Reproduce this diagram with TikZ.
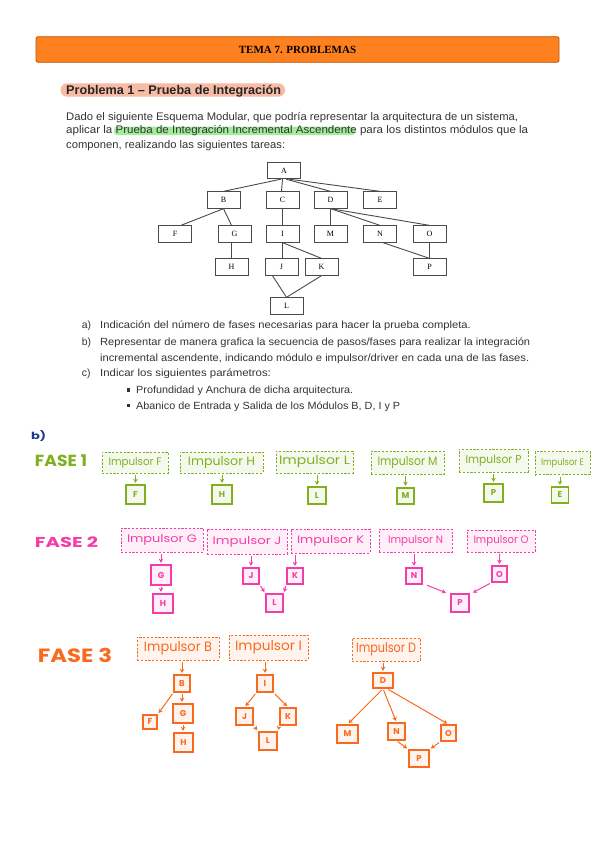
\documentclass[tikz,border=0pt]{standalone}
\usepackage{fontspec}
\usepackage{graphicx}
\setmainfont{Liberation Sans}
\newfontfamily\serifA{Liberation Serif}
\newfontfamily\hwfont{Poppins}
\usetikzlibrary{arrows.meta}
\definecolor{hdrfill}{HTML}{FF801F}
\definecolor{hdrdraw}{HTML}{B8560E}
\definecolor{salmon}{HTML}{F8BBA6}
\definecolor{hlgreen}{HTML}{A3EC9C}
\definecolor{bodytxt}{HTML}{333333}
\definecolor{treeline}{HTML}{4A4A4A}
\definecolor{gcol}{HTML}{80B020}
\definecolor{pcol}{HTML}{F53DAA}
\definecolor{ocol}{HTML}{F96A1E}
\definecolor{bcol}{HTML}{1E3C8C}
\newcommand\hwt[3]{\resizebox{#1pt}{#2pt}{\hwfont #3}}
\newcommand\hwb[3]{\resizebox{#1pt}{#2pt}{\hwfont\bfseries #3}}
\newcommand\fitw[2]{\resizebox{#1pt}{\height}{#2}}
\begin{document}
\begin{tikzpicture}[x=1pt,y=-1pt,
  bodyline/.style={anchor=base west,inner sep=0,text=bodytxt,font=\fontsize{11}{13}\selectfont},
  listline/.style={anchor=base west,inner sep=0,text=bodytxt,font=\fontsize{10.4}{13}\selectfont},
  tbox/.style={draw=treeline,line width=0.8pt,minimum width=33pt,minimum height=16.5pt,inner sep=0,font=\serifA\fontsize{8}{8}\selectfont},
  tedge/.style={draw=treeline,line width=0.9pt},
  imp/.style={draw=#1,fill=#1!8,dash pattern=on 2.2pt off 1.6pt,line width=0.9pt,inner sep=0,text=#1},
  mbox/.style={draw=#1,fill=#1!8,line width=1.4pt,inner sep=0,text=#1,font=\hwfont\bfseries\fontsize{8.5}{8.5}\selectfont},
  arr/.style={draw=#1,line width=1pt,-{Stealth[length=4pt,width=4.6pt]},shorten <=1.5pt,shorten >=1.5pt},
  sq/.style={fill=bodytxt,minimum size=3.2pt,inner sep=0}
]
\useasboundingbox (0,0) rectangle (599,848);
\fill[white] (0,0) rectangle (599,848);

% header
\node[draw=hdrdraw,fill=hdrfill,line width=0.8pt,rounded corners=2pt,minimum width=523pt,minimum height=25.6pt,inner sep=0,font=\serifA\bfseries\fontsize{11}{11}\selectfont] (hdr) at (297.5,49.5) {TEMA 7. PROBLEMAS};

% title
\node[fill=salmon,rounded corners=6.5pt,minimum width=224.5pt,minimum height=13.4pt,inner sep=0] (titbg) at (172.8,90) {};
\node[anchor=base west,inner sep=0,font=\bfseries\fontsize{12.6}{14}\selectfont,text=black!85] (tit) at (66,94.3) {\fitw{215}{Problema 1 – Prueba de Integración}};

% paragraph
\fill[hlgreen,rounded corners=3pt] (114,126.7) rectangle (355,135);
\node[bodyline] (p1) at (66,120.7) {\fitw{452}{Dado el siguiente Esquema Modular, que podría representar la arquitectura de un sistema,}};
\node[bodyline] (p2) at (66,133.3) {\fitw{462}{aplicar la Prueba de Integración Incremental Ascendente para los distintos módulos que la}};
\node[bodyline] (p3) at (66,148.3) {\fitw{219}{componen, realizando las siguientes tareas:}};

% tree
\node[tbox] (A) at (284,170.5) {A};
\node[tbox] (B) at (223.5,200) {B};
\node[tbox] (C) at (282.5,200) {C};
\node[tbox] (D) at (330.5,200) {D};
\node[tbox] (E) at (380,200) {E};
\node[tbox] (F) at (175,234) {F};
\node[tbox] (G) at (234.5,234) {G};
\node[tbox] (I) at (282.5,234) {I};
\node[tbox] (M) at (330.5,234) {M};
\node[tbox] (N) at (380,234) {N};
\node[tbox] (O) at (429.5,234) {O};
\node[tbox] (H) at (231.5,267) {H};
\node[tbox] (J) at (281.5,267) {J};
\node[tbox] (K) at (321.5,267) {K};
\node[tbox] (P) at (429.5,267) {P};
\node[tbox] (L) at (286.5,306) {L};
\draw[tedge] ([xshift=-3pt]A.south) -- (B.north);
\draw[tedge] ([xshift=-1.5pt]A.south) -- ([xshift=-1pt]C.north);
\draw[tedge] ([xshift=2pt]A.south) -- (D.north);
\draw[tedge] ([xshift=5pt]A.south) -- (E.north);
\draw[tedge] (B.south) -- ([xshift=6pt]F.north);
\draw[tedge] (B.south) -- ([xshift=-3pt]G.north);
\draw[tedge] (G.south -| H.north) -- (H.north);
\draw[tedge] (C.south) -- (I.north);
\draw[tedge] (I.south) -- (I.south |- J.north);
\draw[tedge] (I.south) -- (K.north);
\draw[tedge] ([xshift=-9pt]J.south) -- (L.north);
\draw[tedge] (K.south) -- (L.north);
\draw[tedge] (D.south) -- (M.north);
\draw[tedge] (D.south) -- (N.north);
\draw[tedge] (D.south) -- (O.north);
\draw[tedge] ([xshift=3pt]N.south) -- (P.north);
\draw[tedge] (O.south) -- (P.north);

% list
\node[listline] (la) at (81.7,328.5) {a)};
\node[listline] (lat) at (100,328.5) {\fitw{370.7}{Indicación del número de fases necesarias para hacer la prueba completa.}};
\node[listline] (lb) at (81.7,345) {b)};
\node[listline] (lbt) at (100,345) {\fitw{430}{Representar de manera grafica la secuencia de pasos/fases para realizar la integración}};
\node[listline] (lbt2) at (100,361) {\fitw{429}{incremental ascendente, indicando módulo e impulsor/driver en cada una de las fases.}};
\node[listline] (lc) at (81.7,376.8) {c)};
\node[listline] (lct) at (100,376.8) {\fitw{170.7}{Indicar los siguientes parámetros:}};
\node[sq] (s1) at (128.5,390) {};
\node[listline] (l1) at (136,393.5) {\fitw{217}{Profundidad y Anchura de dicha arquitectura.}};
\node[sq] (s2) at (128.5,405.7) {};
\node[listline] (l2) at (136,409.2) {\fitw{264}{Abanico de Entrada y Salida de los Módulos B, D, I y P}};

% b)
\node[inner sep=0,text=bcol] (bl) at (38.5,436) {\hwb{15}{9}{b)}};

% FASE 1
\node[inner sep=0,text=gcol] (f1) at (61,461) {\hwb{52}{11.7}{FASE 1}};
\node[imp=gcol,minimum width=66pt,minimum height=21pt] (iF) at (135,462.5) {\hwt{53}{8}{Impulsor F}};
\node[mbox=gcol,minimum width=19pt,minimum height=19pt] (bF) at (135.5,494.5) {F};
\node[imp=gcol,minimum width=83pt,minimum height=21pt] (iH) at (221.5,462.5) {\hwt{67}{9}{Impulsor H}};
\node[mbox=gcol,minimum width=20pt,minimum height=19pt] (bH) at (222,494.5) {H};
\node[imp=gcol,minimum width=77pt,minimum height=22pt] (iL) at (314.5,462) {\hwt{71}{9}{Impulsor L}};
\node[mbox=gcol,minimum width=18pt,minimum height=17pt] (bL) at (317,495.5) {L};
\node[imp=gcol,minimum width=73pt,minimum height=23pt] (iM) at (407.5,462.5) {\hwt{60}{9}{Impulsor M}};
\node[mbox=gcol,minimum width=17pt,minimum height=16pt] (bM) at (405.5,496) {M};
\node[imp=gcol,minimum width=69pt,minimum height=23pt] (iP) at (493.5,460.5) {\hwt{56}{8.5}{Impulsor P}};
\node[mbox=gcol,minimum width=19pt,minimum height=18pt] (bP) at (493.5,493) {P};
\node[imp=gcol,minimum width=55pt,minimum height=23pt] (iE) at (562.5,463.3) {\hwt{43}{7}{Impulsor E}};
\node[mbox=gcol,minimum width=17pt,minimum height=16pt] (bE) at (560,495) {E};
\draw[arr=gcol] (iF.south -| bF.north) -- (bF.north);
\draw[arr=gcol] (iH.south -| bH.north) -- (bH.north);
\draw[arr=gcol] (iL.south -| bL.north) -- (bL.north);
\draw[arr=gcol] (iM.south -| bM.north) -- (bM.north);
\draw[arr=gcol] (iP.south -| bP.north) -- (bP.north);
\draw[arr=gcol] (iE.south -| bE.north) -- (bE.north);

% FASE 2
\node[inner sep=0,text=pcol] (f2) at (66.5,542) {\hwb{63}{10.7}{FASE 2}};
\node[imp=pcol,minimum width=82pt,minimum height=24pt] (iG) at (162,540) {\hwt{70}{8}{Impulsor G}};
\node[mbox=pcol,minimum width=20pt,minimum height=20pt] (pG) at (161,575) {G};
\node[mbox=pcol,minimum width=20pt,minimum height=19pt] (pH) at (163,603.5) {H};
\node[imp=pcol,minimum width=80pt,minimum height=25pt] (iJ) at (247,541.5) {\hwt{69}{8}{Impulsor J}};
\node[mbox=pcol,minimum width=16pt,minimum height=16pt] (pJ) at (251,576) {J};
\node[imp=pcol,minimum width=79pt,minimum height=24pt] (iK) at (330.5,541) {\hwt{67}{8}{Impulsor K}};
\node[mbox=pcol,minimum width=16pt,minimum height=16pt] (pK) at (295,576) {K};
\node[mbox=pcol,minimum width=17pt,minimum height=18pt] (pL) at (274.5,603) {L};
\node[imp=pcol,minimum width=73pt,minimum height=23pt] (iN) at (415.5,540.5) {\hwt{55}{8}{Impulsor N}};
\node[mbox=pcol,minimum width=16pt,minimum height=16pt] (pN) at (414,576) {N};
\node[imp=pcol,minimum width=68pt,minimum height=22pt] (iO) at (501,541) {\hwt{55}{8}{Impulsor O}};
\node[mbox=pcol,minimum width=15pt,minimum height=16pt] (pO) at (499.5,574) {O};
\node[mbox=pcol,minimum width=18pt,minimum height=18pt] (pP) at (460,603) {P};
\draw[arr=pcol] (iG.south -| pG.north) -- (pG.north);
\draw[arr=pcol] (pG.south) -- (pG.south |- pH.north);
\draw[arr=pcol] (iJ.south -| pJ.north) -- (pJ.north);
\draw[arr=pcol] (iK.south -| pK.north) -- (pK.north);
\draw[arr=pcol] (pJ.south east) -- (pL.north west);
\draw[arr=pcol] (pK.south west) -- (pL.north east);
\draw[arr=pcol] (iN.south -| pN.north) -- (pN.north);
\draw[arr=pcol] (iO.south -| pO.north) -- (pO.north);
\draw[arr=pcol] ([xshift=3pt]pN.south east) -- ([xshift=-3pt]pP.north west);
\draw[arr=pcol] (pO.south west) -- ([xshift=2pt]pP.north east);

% FASE 3
\node[inner sep=0,text=ocol] (f3) at (75,655) {\hwb{74}{14.3}{FASE 3}};
\node[imp=ocol,minimum width=82pt,minimum height=23pt] (iB) at (178,648.5) {\hwt{68}{10}{Impulsor B}};
\node[mbox=ocol,minimum width=16pt,minimum height=17pt] (oB) at (182,683.5) {B};
\node[mbox=ocol,minimum width=14pt,minimum height=14pt] (oF) at (150,722) {F};
\node[mbox=ocol,minimum width=20pt,minimum height=19pt] (oG) at (183,713.5) {G};
\node[mbox=ocol,minimum width=19pt,minimum height=19pt] (oH) at (183.5,742.5) {H};
\node[imp=ocol,minimum width=79pt,minimum height=25pt] (iI) at (268.5,647.5) {\hwt{67}{10}{Impulsor I}};
\node[mbox=ocol,minimum width=16pt,minimum height=17pt] (oI) at (265,683.5) {I};
\node[mbox=ocol,minimum width=17pt,minimum height=17pt] (oJ) at (244.5,716.5) {J};
\node[mbox=ocol,minimum width=16pt,minimum height=17pt] (oK) at (288,716.5) {K};
\node[mbox=ocol,minimum width=18pt,minimum height=18pt] (oL) at (268,741) {L};
\node[imp=ocol,minimum width=68pt,minimum height=23pt] (iD) at (386,649.5) {\hwt{60}{10}{Impulsor D}};
\node[mbox=ocol,minimum width=20pt,minimum height=15pt] (oD) at (383,680.5) {D};
\node[mbox=ocol,minimum width=21pt,minimum height=18pt] (oM) at (347.5,734) {M};
\node[mbox=ocol,minimum width=17pt,minimum height=17pt] (oN) at (396.5,731.5) {N};
\node[mbox=ocol,minimum width=15pt,minimum height=16pt] (oO) at (448.5,733) {O};
\node[mbox=ocol,minimum width=20pt,minimum height=17pt] (oP) at (419,758.5) {P};
\draw[arr=ocol] (iB.south -| oB.north) -- (oB.north);
\draw[arr=ocol] (oB.south west) -- (oF.north east);
\draw[arr=ocol] (oB.south) -- (oB.south |- oG.north);
\draw[arr=ocol] (oG.south) -- (oG.south |- oH.north);
\draw[arr=ocol] (iI.south -| oI.north) -- (oI.north);
\draw[arr=ocol] (oI.south west) -- (oJ.north);
\draw[arr=ocol] (oI.south east) -- (oK.north);
\draw[arr=ocol] (oJ.south east) -- (oL.north west);
\draw[arr=ocol] (oK.south west) -- (oL.north east);
\draw[arr=ocol] (iD.south -| oD.north) -- (oD.north);
\draw[arr=ocol] (oD.south) -- (oM.north);
\draw[arr=ocol] (oD.south) -- (oN.north);
\draw[arr=ocol] ([xshift=4pt]oD.south) -- (oO.north);
\draw[arr=ocol] (oN.south) -- (oP.north west);
\draw[arr=ocol] (oO.south west) -- (oP.north east);
\end{tikzpicture}
\end{document}
